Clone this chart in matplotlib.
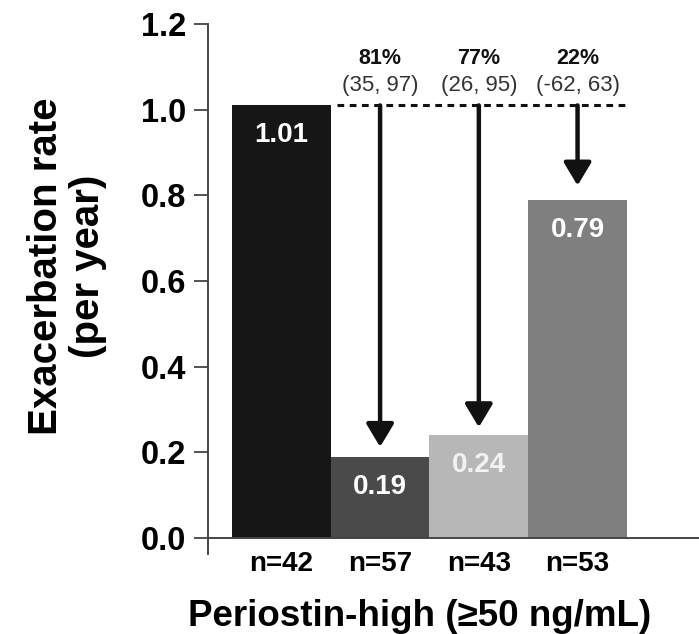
import matplotlib
matplotlib.use("Agg")
import matplotlib.pyplot as plt
import matplotlib.transforms as mtransforms

plt.rcParams['font.family'] = ['Liberation Sans', 'DejaVu Sans']

# data
group_n = ["n=42", "n=57", "n=43", "n=53"]
rates = [1.01, 0.19, 0.24, 0.79]
bar_colors = ["#161616", "#4a4a4a", "#b7b7b7", "#7f7f7f"]
value_colors = ["white", "white", "#f2f2f2", "white"]
reductions = ["81%", "77%", "22%"]
conf_ints = ["(35, 97)", "(26, 95)", "(-62, 63)"]
arrow_gap = [0.023, 0.019, 0.033]   # space between arrow tip and bar top

fig = plt.figure(figsize=(6.99, 6.34), dpi=100)
ax = fig.add_axes([208 / 699, 1 - 554 / 634, 1 - 208 / 699, (554 - 24) / 634])

x = list(range(len(rates)))
ax.bar(x, rates, width=1.0, color=bar_colors, edgecolor='none')

ax.set_xlim(-0.743, 4.23)
ax.set_ylim(-0.037, 1.2)
ax.set_yticks([0.0, 0.2, 0.4, 0.6, 0.8, 1.0, 1.2])
ax.set_yticklabels([f"{v:.1f}" for v in ax.get_yticks()], fontsize=23.5, fontweight='bold')
ax.tick_params(axis='y', length=10, width=1.3, color='#444444', pad=6)

ax.spines['top'].set_visible(False)
ax.spines['right'].set_visible(False)
ax.spines['bottom'].set_position(('data', 0))
for s in ('left', 'bottom'):
    ax.spines[s].set_linewidth(1.4)
    ax.spines[s].set_color('#444444')

ax.set_xticks(x)
ax.set_xticklabels(group_n, fontsize=20, fontweight='bold')
ax.tick_params(axis='x', length=0, pad=9)

# values inside bars
for i, v in enumerate(rates):
    ax.annotate(f"{v:.2f}", xy=(i, v), xytext=(0, -21.5), textcoords='offset points',
                ha='center', va='center', fontsize=20, fontweight='bold', color=value_colors[i])

# reference dashed line at control rate
ax.plot([0.563, 3.51], [rates[0], rates[0]], color='#111111', lw=2.2,
        linestyle=(0, (2.2, 1.8)), solid_capstyle='butt')

# arrows and reduction labels
for k in range(len(reductions)):
    i = k + 1
    ax.annotate('', xy=(i, rates[i] + arrow_gap[k]), xytext=(i, rates[0]),
                arrowprops=dict(arrowstyle='-|>,head_length=0.7,head_width=0.42',
                                mutation_scale=20, lw=3.2, color='#111111',
                                shrinkA=0, shrinkB=0))
    ax.annotate(reductions[k], xy=(i, rates[0]), xytext=(0, 34), textcoords='offset points',
                ha='center', va='center', fontsize=15.5, fontweight='bold', color='#111111')
    ax.annotate(conf_ints[k], xy=(i, rates[0]), xytext=(0, 14.5), textcoords='offset points',
                ha='center', va='center', fontsize=16, color='#333333')

trans = mtransforms.blended_transform_factory(ax.transData, fig.transFigure)
ax.text(1.4, 1 - 626 / 634, "Periostin-high (\u226550 ng/mL)", transform=trans,
        ha='center', va='baseline', fontsize=26.5, fontweight='bold')

fig.text(67 / 699, 1 - 266 / 634, "Exacerbation rate\n(per year)", rotation=90,
         ha='center', va='center', multialignment='center', fontsize=29,
         fontweight='bold', linespacing=1.15)

fig.savefig("out.png", dpi=100)
